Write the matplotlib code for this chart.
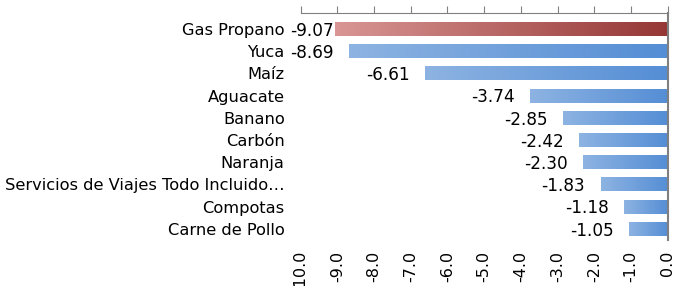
import matplotlib
matplotlib.use('Agg')
import matplotlib.pyplot as plt
import numpy as np
from matplotlib.colors import LinearSegmentedColormap

categories = ['Gas Propano', 'Yuca', 'Maíz', 'Aguacate', 'Banano', 'Carbón',
              'Naranja', 'Servicios de Viajes Todo Incluido…', 'Compotas',
              'Carne de Pollo']
values = [-9.07, -8.69, -6.61, -3.74, -2.85, -2.42, -2.30, -1.83, -1.18, -1.05]
ticks = [-10, -9, -8, -7, -6, -5, -4, -3, -2, -1, 0]

plt.rcParams['font.family'] = ['DejaVu Sans']

fig = plt.figure(figsize=(6.75, 2.86), dpi=100)
ax = fig.add_axes([300.7/675, 1-240/286, 367/675, (240-13)/286])

blue = LinearSegmentedColormap.from_list('b', ['#8db3e2', '#558ed5'])
red = LinearSegmentedColormap.from_list('r', ['#d99694', '#953735'])
grad = np.linspace(0, 1, 256).reshape(1, -1)

h = 0.63
y = np.arange(len(categories))
bars = ax.barh(y, values, height=h, color='none', edgecolor='none')
for i, (b, v) in enumerate(zip(bars, values)):
    cm = red if i == 0 else blue
    im = ax.imshow(grad, cmap=cm, aspect='auto',
                   extent=[v, 0, i + h/2, i - h/2], zorder=2)
    im.set_clip_path(b)
    # data label left of the bar end, pushed right if it would hit the categories
    xe = max(v - 0.42, -9.1)
    ax.text(xe, i + 0.08, '%.2f' % v, ha='right', va='center',
            fontsize=12.2, color='black')

ax.set_xlim(-10, 0)
ax.set_ylim(len(categories) - 0.5, -0.72)
ax.set_xticks(ticks)
ax.set_xticklabels(['%.1f' % t for t in ticks], rotation=90, fontsize=11.5)
ax.tick_params(axis='x', direction='out', length=5, color='#808080',
               top=True, bottom=False, labeltop=False, labelbottom=True,
               pad=3)
for lab in ax.get_xticklabels():
    lab.set_va('top')
ax.set_yticks(y)
ax.set_yticklabels(categories, fontsize=11.7)
ax.tick_params(axis='y', length=0, pad=11.5)

for s in ['left', 'bottom']:
    ax.spines[s].set_visible(False)
ax.spines['top'].set_color('#808080')
ax.spines['right'].set_color('#808080')
ax.spines['right'].set_linewidth(1.5)

plt.savefig('out.png', dpi=100)
